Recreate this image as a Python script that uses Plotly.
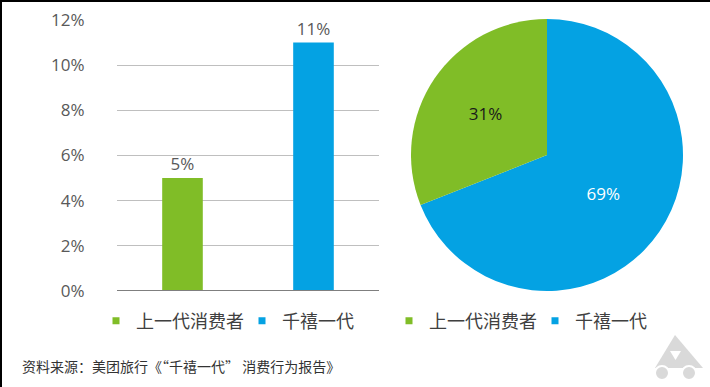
import plotly.graph_objects as go

categories = ["上一代消费者", "千禧一代"]
bar_values = [5, 11]
pie_values = [31, 69]
colors = ["#80BD27", "#04A2E3"]
y_ticks = [0, 2, 4, 6, 8, 10, 12]
source_text = "资料来源：美团旅行《“千禧一代” 消费行为报告》"

W, H = 710, 387
def px(x): return x / W
def py(y): return (H - y) / H

CJK = "Noto Sans CJK SC, Open Sans, sans-serif"
NUM = "Open Sans, Noto Sans CJK SC, sans-serif"

fig = go.Figure()

for cat, val, col in zip(categories, bar_values, colors):
    fig.add_trace(go.Bar(
        x=[cat], y=[val], marker=dict(color=col, line=dict(width=0)),
        width=0.31, text=[f"{val}%"], textposition="outside",
        textfont=dict(family=NUM, size=17, color="#595959"),
        cliponaxis=False, showlegend=False, hoverinfo="skip",
        xaxis="x", yaxis="y"))

# legend entries for bar chart
for cat, col in zip(categories, colors):
    fig.add_trace(go.Scatter(
        x=[None], y=[None], mode="markers", name=cat,
        marker=dict(symbol="square", size=7, color=col),
        legend="legend", xaxis="x", yaxis="y"))

# pie: the second category runs clockwise from 12 o'clock, the first ends at 12 o'clock
fig.add_trace(go.Pie(
    labels=categories[::-1], values=pie_values[::-1], sort=False,
    direction="clockwise", rotation=0,
    marker=dict(colors=colors[::-1], line=dict(width=0)),
    textinfo="percent", textposition="inside",
    insidetextfont=dict(family=NUM, size=17, color=["#ffffff", "#1a1a1a"]),
    domain=dict(x=[px(411), px(683)], y=[py(291), py(19)]),
    showlegend=False, hoverinfo="skip"))

# legend entries for pie chart
for cat, col in zip(categories, colors):
    fig.add_trace(go.Scatter(
        x=[None], y=[None], mode="markers", name=cat,
        marker=dict(symbol="square", size=7, color=col),
        legend="legend2", xaxis="x", yaxis="y"))

fig.update_layout(
    width=W, height=H,
    margin=dict(l=0, r=0, t=0, b=0, autoexpand=False),
    paper_bgcolor="white", plot_bgcolor="white",
    barmode="overlay",
    xaxis=dict(domain=[px(117), px(379)], showticklabels=False, showgrid=False,
               zeroline=False, showline=False, fixedrange=True),
    yaxis=dict(domain=[py(291), py(20)], range=[0, 12], tickvals=y_ticks,
               ticktext=[f"{v}%" for v in y_ticks], showgrid=True,
               gridcolor="#BFBFBF", gridwidth=1.3, zeroline=False, showline=False,
               tickfont=dict(family=NUM, size=17, color="#595959"),
               ticks="outside", ticklen=28, tickcolor="rgba(0,0,0,0)",
               fixedrange=True),
    legend=dict(orientation="h", x=px(96), y=py(321), xanchor="left", yanchor="middle",
                font=dict(family=CJK, size=18, color="#404040"),
                bgcolor="rgba(0,0,0,0)", entrywidth=101, entrywidthmode="pixels",
                itemclick=False),
    legend2=dict(orientation="h", x=px(389), y=py(321), xanchor="left", yanchor="middle",
                 font=dict(family=CJK, size=18, color="#404040"),
                 bgcolor="rgba(0,0,0,0)", entrywidth=101, entrywidthmode="pixels",
                 itemclick=False),
    annotations=[dict(text=source_text, x=px(20), y=py(366), xref="paper", yref="paper",
                      xanchor="left", yanchor="middle", showarrow=False,
                      font=dict(family=CJK, size=14, color="#333333"))],
    shapes=[
        # zero baseline
        dict(type="line", xref="paper", yref="y", x0=px(117), x1=px(379), y0=0, y1=0,
             line=dict(color="#7F7F7F", width=2)),
        # black frame edges
        dict(type="rect", xref="paper", yref="paper", x0=0, x1=px(2), y0=0, y1=1,
             fillcolor="black", line=dict(width=0)),
        dict(type="rect", xref="paper", yref="paper", x0=0, x1=1, y0=py(2), y1=1,
             fillcolor="black", line=dict(width=0)),
        # logo
        dict(type="path", xref="paper", yref="paper",
             path=f"M {px(655)},{py(368)} L {px(675)},{py(335)} L {px(703)},{py(368)} Z",
             fillcolor="#D9D9D9", line=dict(width=0)),
        dict(type="path", xref="paper", yref="paper",
             path=f"M {px(670)},{py(351)} L {px(681)},{py(351)} L {px(675.5)},{py(360)} Z",
             fillcolor="white", line=dict(width=0)),
        dict(type="circle", xref="paper", yref="paper",
             x0=px(655), x1=px(669), y0=py(380), y1=py(366),
             fillcolor="#D9D9D9", line=dict(color="white", width=2)),
        dict(type="circle", xref="paper", yref="paper",
             x0=px(682), x1=px(696), y0=py(380), y1=py(366),
             fillcolor="#D9D9D9", line=dict(color="white", width=2)),
    ],
)

fig.write_html("out.html", config={"displayModeBar": False},
               post_script="document.body.style.margin='0';")
